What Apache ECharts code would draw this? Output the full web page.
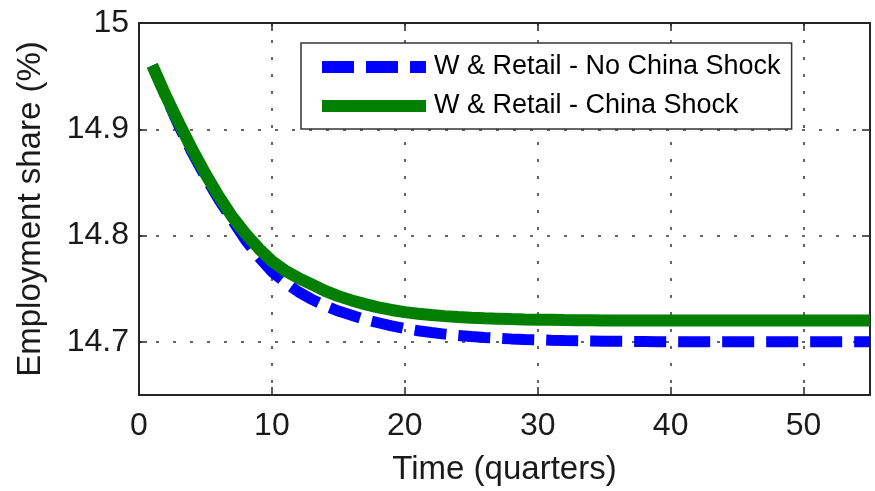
<!DOCTYPE html>
<html>
<head>
<meta charset="utf-8">
<style>
  html, body { margin: 0; padding: 0; background: #fff; }
  #chart { width: 875px; height: 491px; }
</style>
<script src="https://cdn.jsdelivr.net/npm/echarts@6/dist/echarts.min.js"></script>
</head>
<body>
<div id="chart"></div>
<script>
// Wholesale & retail employment share (%) over 55 quarters
const seriesNames = ['W & Retail - No China Shock', 'W & Retail - China Shock'];

const noShock = [
  14.960, 14.931, 14.903, 14.878, 14.855, 14.834, 14.815, 14.796, 14.780, 14.766,
  14.756, 14.747, 14.740, 14.734, 14.729, 14.725, 14.721, 14.718, 14.715, 14.7125,
  14.7105, 14.7088, 14.7073, 14.7060, 14.7050, 14.7041, 14.7034, 14.7028, 14.7023, 14.7019,
  14.7015, 14.7012, 14.7010, 14.7008, 14.7006, 14.7005, 14.7004, 14.7003, 14.7002, 14.7001,
  14.700, 14.700, 14.700, 14.700, 14.700, 14.700, 14.700, 14.700, 14.700, 14.700,
  14.700, 14.700, 14.700, 14.700, 14.700
];

const withShock = [
  14.960, 14.932, 14.906, 14.881, 14.858, 14.837, 14.818, 14.802, 14.788, 14.776,
  14.767, 14.760, 14.754, 14.748, 14.743, 14.739, 14.7355, 14.7325, 14.730, 14.728,
  14.7265, 14.7252, 14.7242, 14.7234, 14.7227, 14.7222, 14.7218, 14.7214, 14.7211, 14.7209,
  14.7207, 14.7205, 14.7204, 14.7203, 14.7202, 14.7201, 14.7201, 14.720, 14.720, 14.720,
  14.720, 14.720, 14.720, 14.720, 14.720, 14.720, 14.720, 14.720, 14.720, 14.720,
  14.720, 14.720, 14.720, 14.720, 14.720
];

const xTicks = [0, 10, 20, 30, 40, 50];
const yTicks = [14.7, 14.8, 14.9, 15];

const FONT = '"Liberation Sans", Arial, Helvetica, sans-serif';
const AXIS_COLOR = '#262626';

const pairs = (vals) => vals.map((v, i) => [i + 1, v]);

const chart = echarts.init(document.getElementById('chart'), null, { renderer: 'canvas' });

const gridLine = { show: true, lineStyle: { color: '#333', width: 1.5, type: [3, 14] } };
const axisLine = { show: true, onZero: false, lineStyle: { color: AXIS_COLOR, width: 2 } };

chart.setOption({
  animation: false,
  backgroundColor: '#fff',
  grid: { left: 139, right: 5, top: 23, bottom: 95, containLabel: false },
  legend: {
    data: seriesNames,
    orient: 'vertical',
    left: 301,
    top: 43,
    padding: [9, 11, 8, 15],
    itemWidth: 104,
    itemHeight: 12,
    itemGap: 9,
    backgroundColor: '#fff',
    borderColor: '#333',
    borderWidth: 1.5,
    lineStyle: { width: 12 },
    itemStyle: { opacity: 0 },
    textStyle: { fontFamily: FONT, fontSize: 27, color: '#000', lineHeight: 30, padding: [0, 0, 0, 3] }
  },
  xAxis: [
    {
      type: 'value', min: 0, max: 55, position: 'bottom',
      name: 'Time (quarters)', nameLocation: 'middle', nameGap: 58,
      nameTextStyle: { fontFamily: FONT, fontSize: 33, color: '#1a1a1a' },
      axisLine: axisLine,
      axisTick: { show: true, inside: true, length: 8, customValues: xTicks, lineStyle: { color: AXIS_COLOR, width: 1.5 } },
      axisLabel: { show: true, customValues: xTicks, margin: 15, fontFamily: FONT, fontSize: 32, color: '#1a1a1a' },
      splitLine: gridLine
    },
    {
      type: 'value', min: 0, max: 55, position: 'top',
      axisLine: axisLine,
      axisTick: { show: true, inside: true, length: 8, customValues: xTicks, lineStyle: { color: AXIS_COLOR, width: 1.5 } },
      axisLabel: { show: false },
      splitLine: { show: false }
    }
  ],
  yAxis: [
    {
      type: 'value', min: 14.65, max: 15, position: 'left',
      name: 'Employment share (%)', nameLocation: 'middle', nameGap: 92, nameRotate: 90,
      nameTextStyle: { fontFamily: FONT, fontSize: 33, color: '#1a1a1a' },
      axisLine: axisLine,
      axisTick: { show: true, inside: true, length: 8, customValues: yTicks, lineStyle: { color: AXIS_COLOR, width: 1.5 } },
      axisLabel: {
        show: true, customValues: yTicks, margin: 10, fontFamily: FONT, fontSize: 32, color: '#1a1a1a',
        formatter: (v) => String(Math.round(v * 10) / 10)
      },
      splitLine: gridLine
    },
    {
      type: 'value', min: 14.65, max: 15, position: 'right',
      axisLine: axisLine,
      axisTick: { show: true, inside: true, length: 8, customValues: yTicks, lineStyle: { color: AXIS_COLOR, width: 1.5 } },
      axisLabel: { show: false },
      splitLine: { show: false }
    }
  ],
  series: [
    {
      name: seriesNames[0], type: 'line', xAxisIndex: 0, yAxisIndex: 0,
      data: pairs(noShock), symbol: 'none', smooth: false,
      lineStyle: { color: '#0000ff', width: 11, type: [32, 12], cap: 'butt' },
      itemStyle: { color: '#0000ff' }
    },
    {
      name: seriesNames[1], type: 'line', xAxisIndex: 0, yAxisIndex: 0,
      data: pairs(withShock), symbol: 'none', smooth: false,
      lineStyle: { color: '#007f00', width: 12, type: 'solid', cap: 'butt' },
      itemStyle: { color: '#007f00' }
    }
  ]
});
</script>
</body>
</html>
